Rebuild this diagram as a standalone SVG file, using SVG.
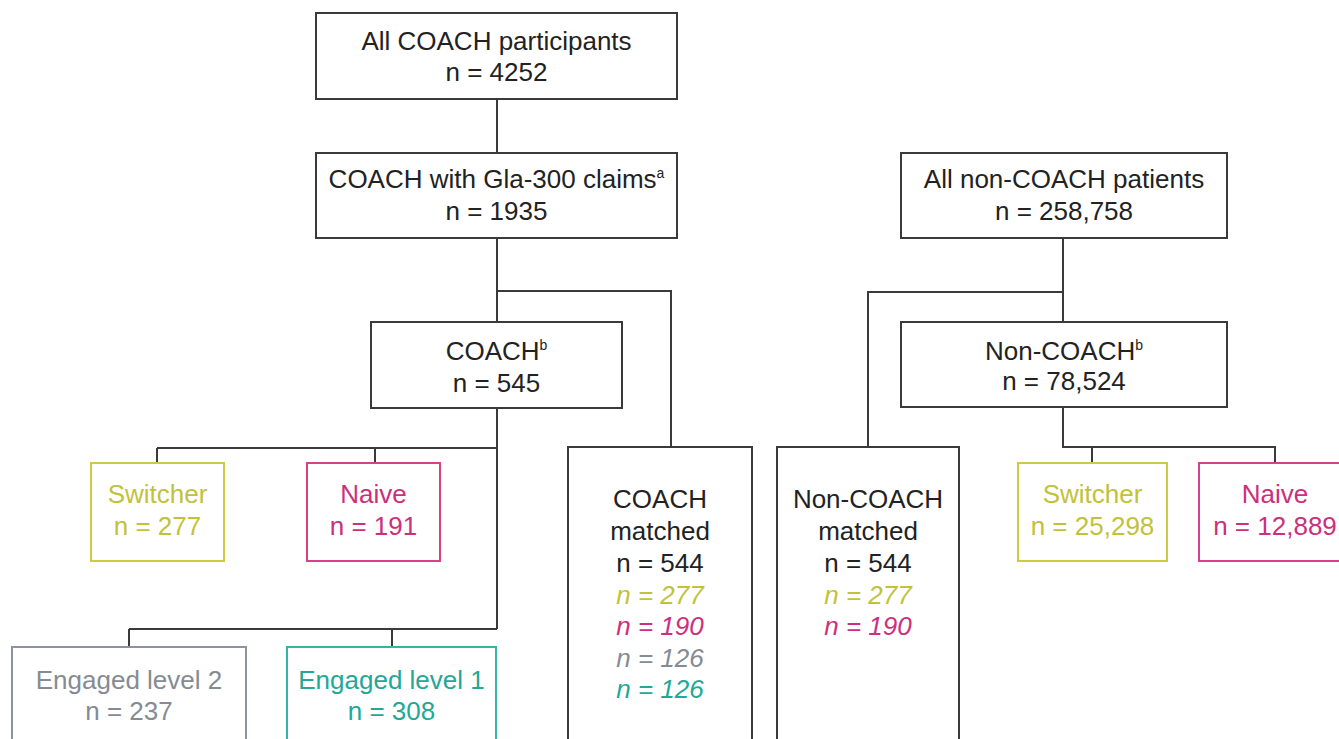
<svg xmlns="http://www.w3.org/2000/svg" width="1339" height="739" viewBox="0 0 1339 739">
<style>
.box{fill:#fff;stroke:#3a3a3a;stroke-width:2}
.yb{fill:#fff;stroke:#cccc44;stroke-width:2}
.mb{fill:#fff;stroke:#d8408a;stroke-width:2}
.gb{fill:#fff;stroke:#8e949c;stroke-width:2}
.tb{fill:#fff;stroke:#34b5a6;stroke-width:2}
text{font-family:"Liberation Sans",Arial,sans-serif;font-size:26px;text-anchor:middle;fill:#222}
.y{fill:#c2c23a}
.m{fill:#cc2f7c}
.g{fill:#858b93}
.t{fill:#22a896}
.i{font-style:italic}
.sup{font-size:14px}
.conn{fill:none;stroke:#3a3a3a;stroke-width:2}
</style>
<rect width="1339" height="739" fill="#fff"/>
<g id="connectors">
<path class="conn" d="M497 99V322"/>
<path class="conn" d="M497 291H671V448"/>
<path class="conn" d="M497 408V629"/>
<path class="conn" d="M157 448H497"/>
<path class="conn" d="M157 448V463M375 448V463"/>
<path class="conn" d="M129 629H497"/>
<path class="conn" d="M129 629V647M392 629V647"/>
<path class="conn" d="M1063 238V322"/>
<path class="conn" d="M1063 292H868V448"/>
<path class="conn" d="M1063 407V447H1275V463M1092 447V463"/>
</g>
<g id="all-coach">
<rect class="box" x="316" y="13" width="361" height="86"/>
<text x="496.5" y="50">All COACH participants</text>
<text x="496.5" y="81">n = 4252</text>
</g>
<g id="coach-gla300">
<rect class="box" x="316" y="153" width="361" height="85"/>
<text x="496.5" y="188">COACH with Gla-300 claims<tspan class="sup" dy="-10">a</tspan></text>
<text x="496.5" y="220">n = 1935</text>
</g>
<g id="all-noncoach">
<rect class="box" x="901" y="153" width="326" height="85"/>
<text x="1064" y="188">All non-COACH patients</text>
<text x="1064" y="220">n = 258,758</text>
</g>
<g id="coach">
<rect class="box" x="371" y="322" width="251" height="86"/>
<text x="496.5" y="360">COACH<tspan class="sup" dy="-10">b</tspan></text>
<text x="496.5" y="392">n = 545</text>
</g>
<g id="noncoach">
<rect class="box" x="901" y="322" width="326" height="85"/>
<text x="1064" y="360">Non-COACH<tspan class="sup" dy="-10">b</tspan></text>
<text x="1064" y="390">n = 78,524</text>
</g>
<g id="switcher-coach">
<rect class="yb" x="91" y="463" width="133" height="98"/>
<text class="y" x="157.5" y="503">Switcher</text>
<text class="y" x="157.5" y="535">n = 277</text>
</g>
<g id="naive-coach">
<rect class="mb" x="307" y="463" width="133" height="98"/>
<text class="m" x="373.5" y="503">Naive</text>
<text class="m" x="373.5" y="535">n = 191</text>
</g>
<g id="engaged2">
<rect class="gb" x="12" y="647" width="234" height="110"/>
<text class="g" x="129" y="689">Engaged level 2</text>
<text class="g" x="129" y="720">n = 237</text>
</g>
<g id="engaged1">
<rect class="tb" x="287" y="647" width="209" height="110"/>
<text class="t" x="391.5" y="689">Engaged level 1</text>
<text class="t" x="391.5" y="720">n = 308</text>
</g>
<g id="coach-matched">
<rect class="box" x="568" y="447" width="184" height="310"/>
<text x="660" y="508">COACH</text>
<text x="660" y="540">matched</text>
<text x="660" y="572">n = 544</text>
<text class="y i" x="660" y="604">n = 277</text>
<text class="m i" x="660" y="635">n = 190</text>
<text class="g i" x="660" y="667">n = 126</text>
<text class="t i" x="660" y="698">n = 126</text>
</g>
<g id="noncoach-matched">
<rect class="box" x="777" y="447" width="182" height="310"/>
<text x="868" y="508">Non-COACH</text>
<text x="868" y="540">matched</text>
<text x="868" y="572">n = 544</text>
<text class="y i" x="868" y="604">n = 277</text>
<text class="m i" x="868" y="635">n = 190</text>
</g>
<g id="switcher-noncoach">
<rect class="yb" x="1018" y="463" width="149" height="98"/>
<text class="y" x="1092.5" y="503">Switcher</text>
<text class="y" x="1092.5" y="535">n = 25,298</text>
</g>
<g id="naive-noncoach">
<rect class="mb" x="1199" y="463" width="152" height="98"/>
<text class="m" x="1275" y="503">Naive</text>
<text class="m" x="1275" y="535">n = 12,889</text>
</g>
</svg>
